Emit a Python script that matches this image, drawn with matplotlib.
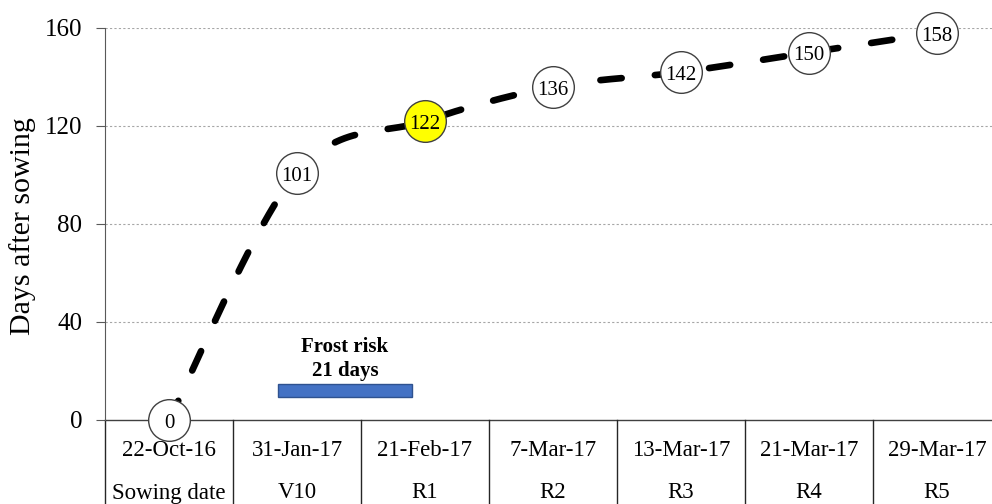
import numpy as np
import matplotlib
matplotlib.use('Agg')
import matplotlib.pyplot as plt
from matplotlib.patches import Rectangle

# ── Data ───────────────────────────────────────────────────────────────────────
dates  = ['22-Oct-16', '31-Jan-17', '21-Feb-17', '7-Mar-17', '13-Mar-17', '21-Mar-17', '29-Mar-17']
stages = ['Sowing date', 'V10', 'R1', 'R2', 'R3', 'R4', 'R5']
days   = [0, 101, 122, 136, 142, 150, 158]
highlight = 'R1'

frost_start, frost_end = 0.85, 1.9      # in category units
frost_low, frost_high  = 9.4, 14.7
frost_text = 'Frost risk\n21 days'

plt.rcParams['font.family'] = ['Liberation Serif', 'DejaVu Serif']

# ── Smoothed line (Excel-style bezier) ────────────────────────────────────────
x = np.arange(len(days), dtype=float)
y = np.array(days, dtype=float)
xp = np.concatenate([[x[0]], x, [x[-1]]])
yp = np.concatenate([[y[0]], y, [y[-1]]])
t = np.linspace(0, 1, 60)
sx, sy = [], []
for i in range(len(x) - 1):
    p0 = np.array([xp[i + 1], yp[i + 1]])
    p3 = np.array([xp[i + 2], yp[i + 2]])
    p1 = p0 + (np.array([xp[i + 2], yp[i + 2]]) - np.array([xp[i], yp[i]])) / 6
    p2 = p3 - (np.array([xp[i + 3], yp[i + 3]]) - np.array([xp[i + 1], yp[i + 1]])) / 6
    b = ((1 - t) ** 3)[:, None] * p0 + (3 * (1 - t) ** 2 * t)[:, None] * p1 \
        + (3 * (1 - t) * t ** 2)[:, None] * p2 + (t ** 3)[:, None] * p3
    sx.extend(b[:, 0]); sy.extend(b[:, 1])

# ── Figure ─────────────────────────────────────────────────────────────────────
fig = plt.figure(figsize=(9.92, 5.04), dpi=100)
ax = fig.add_axes([105 / 992, 84 / 504, 896 / 992, 392 / 504])

ax.set_xlim(-0.5, len(days) - 0.5)
ax.set_ylim(0, 160)
ax.set_yticks([0, 40, 80, 120, 160])
ax.set_xticks([])
ax.tick_params(axis='y', length=6.5, width=0.8, pad=10, labelsize=18, color='#595959')
for s in ['top', 'right', 'bottom']:
    ax.spines[s].set_visible(False)
ax.spines['left'].set_color('#595959')

for g in [40, 80, 120, 160]:
    ax.axhline(g, color='#a6a6a6', lw=0.8, ls=(0, (2, 2)), zorder=0)
ax.axhline(0, color='#404040', lw=1.0, zorder=1, clip_on=False)

ax.plot(sx, sy, color='black', lw=4.8, ls=(0, (3.2, 5.0)),
        solid_capstyle='round', dash_capstyle='round', zorder=2, clip_on=False)

for i, v in enumerate(days):
    fc = '#ffff00' if stages[i] == highlight else 'white'
    ax.plot(i, v, marker='o', ms=30, mfc=fc, mec='#404040', mew=1.0,
            zorder=3, clip_on=False)
    ax.annotate(str(v), (i, v), xytext=(0, -2.5), textcoords='offset points',
                ha='center', va='center', fontsize=15, zorder=4,
                annotation_clip=False)

# frost risk bar
ax.add_patch(Rectangle((frost_start, frost_low), frost_end - frost_start,
                       frost_high - frost_low, facecolor='#4472c4',
                       edgecolor='#2f528f', lw=1.0, zorder=2))
ax.text((frost_start + frost_end) / 2, 25, frost_text, ha='center', va='center',
        fontsize=15, fontweight='bold', linespacing=1.3)

# category table under the axis
trans = ax.get_xaxis_transform()
for i in range(len(dates)):
    ax.text(i, -30 / 392, dates[i], transform=trans, ha='center', va='center',
            fontsize=16.5, clip_on=False)
    ax.text(i, -73 / 392, stages[i], transform=trans, ha='center', va='center',
            fontsize=16.5, clip_on=False)
for k in range(len(dates) + 1):
    ax.plot([k - 0.5, k - 0.5], [0, -90 / 392], transform=trans,
            color='#262626', lw=1.0, clip_on=False)

fig.text(23 / 992, (504 - 226) / 504, 'Days after sowing', rotation=90,
         ha='center', va='center', fontsize=21.5)

fig.savefig('out.png', dpi=100)
plt.close(fig)
